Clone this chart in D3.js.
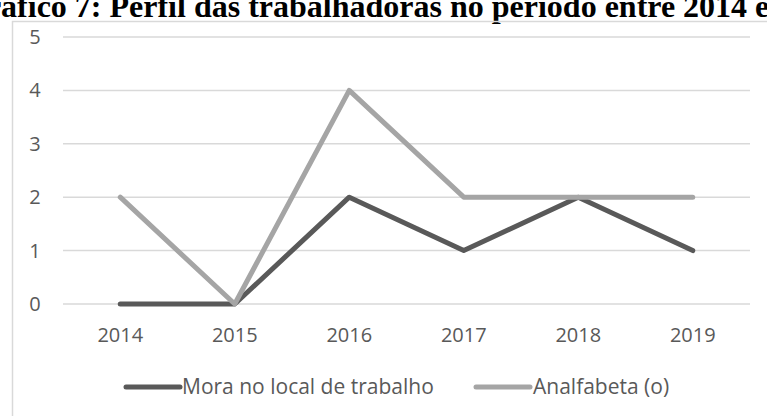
<!DOCTYPE html>
<html>
<head>
<meta charset="utf-8">
<script src="https://cdn.jsdelivr.net/npm/d3@7"></script>
<style>
    body { margin: 0; background: #fff; }
    .tick-label { font-family: "Open Sans", sans-serif; font-size: 20px; fill: #595959; }
    .legend-label { font-family: "Open Sans", sans-serif; font-size: 21px; fill: #595959; }
    .plot-title { font-family: "Liberation Serif", serif; font-weight: bold; font-size: 32px; fill: #000; }
</style>
</head>
<body>
<div id="chart"></div>
<script>
"use strict"

const years = ['2014', '2015', '2016', '2017', '2018', '2019']
const moraNoLocal = [0, 0, 2, 1, 2, 1]
const analfabeta = [2, 0, 4, 2, 2, 2]
const yTicks = [0, 1, 2, 3, 4, 5]
const seriesNames = ['Mora no local de trabalho', 'Analfabeta (o)']
const seriesColors = ['#595959', '#a5a5a5']

const chart = { w: 767, h: 416 }
const frame = { l: 63, r: 750, t: 37, b: 304 }

const svg = d3.select('#chart')
    .append('svg')
        .attr('width', chart.w)
        .attr('height', chart.h)

// title, clipped at the top like the source
svg.append('text')
    .attr('class', 'plot-title')
    .attr('x', -38)
    .attr('y', 17)
    .text('Gráfico 7: Perfil das trabalhadoras no período entre 2014 e 2019')

// chart area border
svg.append('rect')
    .attr('x', 12.5)
    .attr('y', 21.5)
    .attr('width', 800)
    .attr('height', 450)
    .attr('fill', 'none')
    .attr('stroke', '#d9d9d9')
    .attr('stroke-width', 1.5)

const x = d3.scalePoint()
    .domain(years)
    .range([frame.l, frame.r])
    .padding(0.5)

const y = d3.scaleLinear()
    .domain([0, 5])
    .range([frame.b, frame.t])

// gridlines
svg.append('g')
    .selectAll('line')
    .data(yTicks)
    .enter().append('line')
        .attr('x1', frame.l)
        .attr('x2', frame.r)
        .attr('y1', d => y(d))
        .attr('y2', d => y(d))
        .attr('stroke', '#d9d9d9')
        .attr('stroke-width', 1.5)

// y labels
svg.append('g')
    .selectAll('text')
    .data(yTicks)
    .enter().append('text')
        .attr('class', 'tick-label')
        .attr('x', 35)
        .attr('y', d => y(d))
        .attr('dy', '0.35em')
        .attr('text-anchor', 'middle')
        .text(d => d)

// x labels
svg.append('g')
    .selectAll('text')
    .data(years)
    .enter().append('text')
        .attr('class', 'tick-label')
        .attr('x', d => x(d))
        .attr('y', 335)
        .attr('dy', '0.35em')
        .attr('text-anchor', 'middle')
        .text(d => d)

// lines
const line = d3.line()
    .x((d, i) => x(years[i]))
    .y(d => y(d))

;[moraNoLocal, analfabeta].forEach((vals, i) => {
    svg.append('path')
        .datum(vals)
        .attr('d', line)
        .attr('fill', 'none')
        .attr('stroke', seriesColors[i])
        .attr('stroke-width', 5)
        .attr('stroke-linecap', 'round')
        .attr('stroke-linejoin', 'round')
})

// legend
const legendPos = [{ x: 126, tx: 182 }, { x: 476, tx: 533 }]
seriesNames.forEach((name, i) => {
    const g = svg.append('g')
    g.append('line')
        .attr('x1', legendPos[i].x)
        .attr('x2', legendPos[i].x + 54)
        .attr('y1', 387)
        .attr('y2', 387)
        .attr('stroke', seriesColors[i])
        .attr('stroke-width', 5)
        .attr('stroke-linecap', 'round')
    g.append('text')
        .attr('class', 'legend-label')
        .attr('x', legendPos[i].tx)
        .attr('y', 387)
        .attr('dy', '0.35em')
        .text(name)
})
</script>
</body>
</html>
